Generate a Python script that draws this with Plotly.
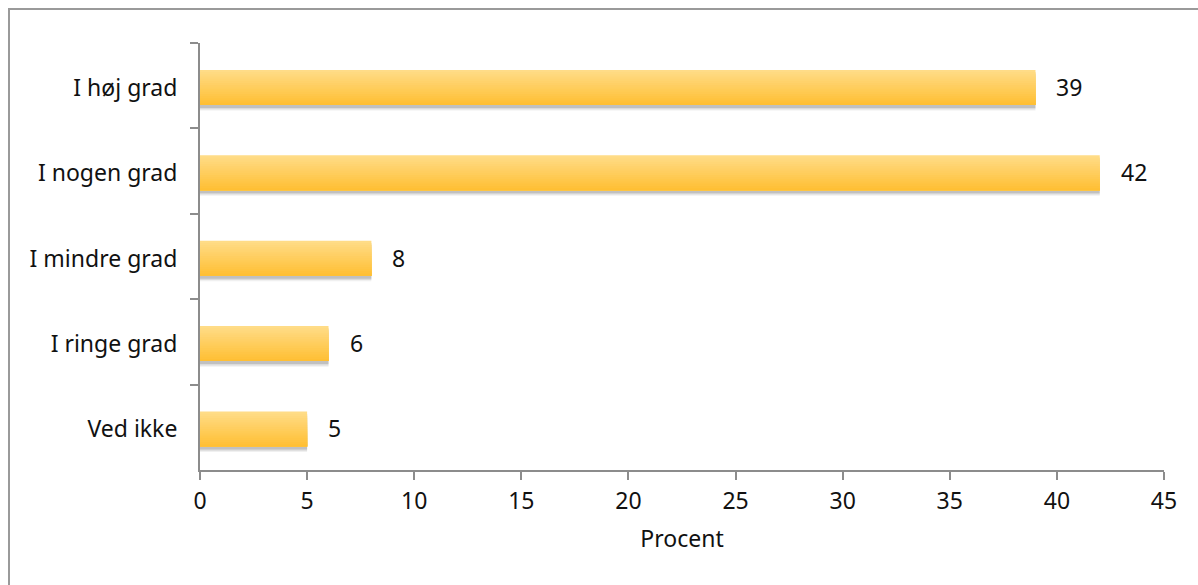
import plotly.graph_objects as go

categories = ["I høj grad", "I nogen grad", "I mindre grad", "I ringe grad", "Ved ikke"]
values = [39, 42, 8, 6, 5]
x_ticks = [0, 5, 10, 15, 20, 25, 30, 35, 40, 45]
x_title = "Procent"

FONT = "'Noto Sans', 'Open Sans', sans-serif"
FS = 23
fig = go.Figure()

bar_w = 0.41
shift = 0.02
# soft shadow
for dy, a in [(0.065, 0.10), (0.05, 0.16), (0.035, 0.24)]:
    fig.add_trace(go.Bar(
        y=categories, x=values, orientation="h",
        width=bar_w, offset=-bar_w / 2 + shift + dy,
        marker=dict(color="rgba(110,110,110,%.2f)" % a, line=dict(width=0)),
        hoverinfo="skip", showlegend=False,
    ))

# gradient (top light -> bottom darker), each layer spans down to bar bottom
n = 16
top = (255, 220, 135)
bot = (255, 191, 52)
sw = bar_w / n
for i in range(n):
    t = i / (n - 1)
    c = tuple(round(top[k] + (bot[k] - top[k]) * t) for k in range(3))
    fig.add_trace(go.Bar(
        y=categories, x=values, orientation="h",
        width=bar_w - i * sw, offset=-bar_w / 2 + shift + i * sw,
        marker=dict(color="rgb(%d,%d,%d)" % c, line=dict(width=0)),
        hoverinfo="skip", showlegend=False,
    ))

for cat, v in zip(categories, values):
    fig.add_annotation(x=v, y=cat, text=str(v), showarrow=False,
                       xanchor="left", xshift=19, yshift=-1,
                       font=dict(family=FONT, size=FS, color="#111111"))

fig.update_layout(
    width=1198, height=585,
    barmode="overlay",
    paper_bgcolor="white", plot_bgcolor="white",
    margin=dict(l=200, r=34, t=43, b=115),
    showlegend=False,
    font=dict(family=FONT, size=FS, color="#111111"),
    xaxis=dict(
        range=[0, 45], tickvals=x_ticks, ticktext=[str(t) for t in x_ticks],
        showgrid=False, zeroline=False, showline=True, linecolor="#8c8c8c", linewidth=2,
        ticks="outside", ticklen=8, tickcolor="#8c8c8c", tickwidth=2,
        ticklabelstandoff=1,
        title=dict(text=x_title, font=dict(family=FONT, size=FS, color="#111111"), standoff=16),
        tickfont=dict(family=FONT, size=FS, color="#111111"),
    ),
    yaxis=dict(
        categoryorder="array", categoryarray=categories, autorange="reversed",
        showgrid=False, zeroline=False, showline=True, linecolor="#8c8c8c", linewidth=2,
        ticks="outside", ticklen=8, tickcolor="#8c8c8c", tickwidth=2, tickson="boundaries",
        ticklabelstandoff=16, ticklabelshift=-2,
        tickfont=dict(family=FONT, size=FS, color="#111111"),
    ),
    shapes=[dict(type="rect", xref="paper", yref="paper",
                 x0=(9 - 200) / 964, x1=(1210 - 200) / 964,
                 y0=(470 - 600) / 427, y1=(470 - 9) / 427,
                 line=dict(color="#9a9a9a", width=2), layer="below")],
)

fig.write_html("out.html")
